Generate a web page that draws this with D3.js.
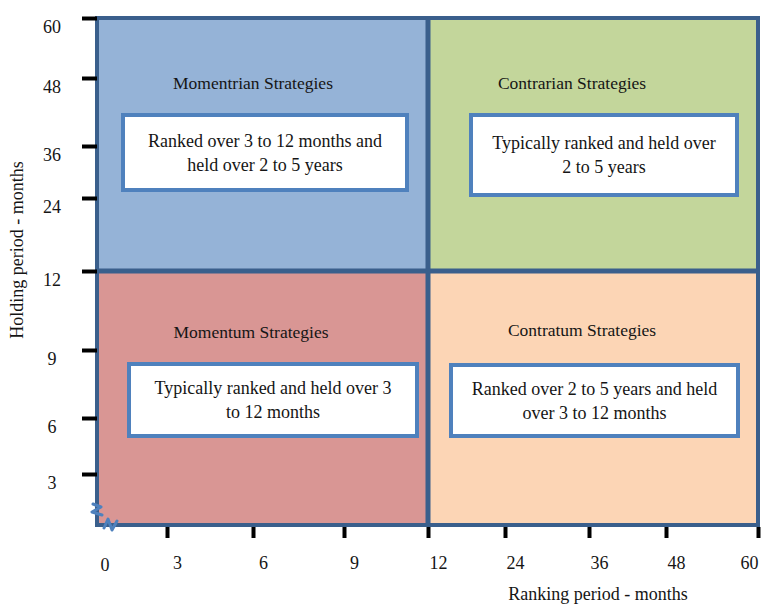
<!DOCTYPE html>
<html lang="en">
<head>
<meta charset="utf-8">
<title>Ranking vs holding period strategies</title>
<script src="https://d3js.org/d3.v7.min.js"></script>
<style>
body { margin: 0; background: #fff; }
svg text { font-family: "Liberation Serif", "DejaVu Serif", serif; fill: #151515; }
</style>
</head>
<body>
<div id="chart"></div>
<script>
// axis ticks (months)
var xTicks = [0, 3, 6, 9, 12, 24, 36, 48, 60];
var yTicks = [0, 3, 6, 9, 12, 24, 36, 48, 60];

// quadrants: ranking range, holding range
var quadX = [[0, 12], [12, 60], [0, 12], [12, 60]];
var quadY = [[12, 60], [12, 60], [0, 12], [0, 12]];
var quadTitles = ["Momentrian Strategies", "Contrarian Strategies", "Momentum Strategies", "Contratum Strategies"];
var quadTexts = [
  ["Ranked over 3 to 12 months and", "held over 2 to 5 years"],
  ["Typically ranked and held over", "2 to 5 years"],
  ["Typically ranked and held over 3", "to 12 months"],
  ["Ranked over 2 to 5 years and held", "over 3 to 12 months"]
];

// styles / layout
var quadFill = ["#95b3d7", "#c3d69b", "#d99694", "#fcd5b5"];
var frameColor = "#3a5f8c";
var boxColor = "#4f81bd";
var serif = "'Liberation Serif', 'DejaVu Serif', serif";
// hand placed tick positions of the original (pixels)
var xPos = [97, 167, 253, 344, 428, 505, 589, 666, 758];
var yPos = [525, 474, 418, 350, 271, 198, 146, 78, 18];
// note box insets inside each quadrant: left, right, top, bottom, title x offset, title y
var boxLayout = [
  {l: 26, r: 21, t: 115, b: 190, tx: 156, ty: 83},
  {l: 43, r: 21, t: 115, b: 195, tx: 144, ty: 83},
  {l: 32, r: 11, t: 364, b: 436, tx: 154, ty: 332},
  {l: 23, r: 20, t: 365, b: 436, tx: 154, ty: 330}
];

var W = 763, H = 606;
var svg = d3.select("#chart").append("svg")
  .attr("width", W)
  .attr("height", H)
  .style("font-family", serif);

var x = d3.scaleLinear().domain(xTicks).range(xPos);
var y = d3.scaleLinear().domain(yTicks).range(yPos);

// quadrant fills
var quads = svg.append("g").selectAll("g")
  .data(quadTitles)
  .enter().append("g");

quads.append("rect")
  .attr("x", function(d, i) { return x(quadX[i][0]); })
  .attr("y", function(d, i) { return y(quadY[i][1]); })
  .attr("width", function(d, i) { return x(quadX[i][1]) - x(quadX[i][0]); })
  .attr("height", function(d, i) { return y(quadY[i][0]) - y(quadY[i][1]); })
  .attr("fill", function(d, i) { return quadFill[i]; })
  .attr("stroke", frameColor)
  .attr("stroke-width", 4);

// middle dividers a bit heavier (two shape borders touching)
svg.append("line")
  .attr("x1", x(12)).attr("x2", x(12))
  .attr("y1", y(60)).attr("y2", y(0))
  .attr("stroke", frameColor).attr("stroke-width", 5);
svg.append("line")
  .attr("x1", x(0)).attr("x2", x(60))
  .attr("y1", y(12)).attr("y2", y(12))
  .attr("stroke", frameColor).attr("stroke-width", 5);

// titles
quads.append("text")
  .attr("x", function(d, i) { return x(quadX[i][0]) + boxLayout[i].tx; })
  .attr("y", function(d, i) { return boxLayout[i].ty; })
  .attr("dy", "0.35em")
  .attr("text-anchor", "middle")
  .style("font-size", "17.5px")
  .text(function(d) { return d; });

// note boxes
quads.append("rect")
  .attr("x", function(d, i) { return x(quadX[i][0]) + boxLayout[i].l; })
  .attr("y", function(d, i) { return boxLayout[i].t; })
  .attr("width", function(d, i) { return x(quadX[i][1]) - boxLayout[i].r - x(quadX[i][0]) - boxLayout[i].l; })
  .attr("height", function(d, i) { return boxLayout[i].b - boxLayout[i].t; })
  .attr("fill", "#fff")
  .attr("stroke", boxColor)
  .attr("stroke-width", 4);

quads.each(function(d, i) {
  var b = boxLayout[i];
  var cx = (x(quadX[i][0]) + b.l + x(quadX[i][1]) - b.r) / 2;
  var cy = (b.t + b.b) / 2;
  d3.select(this).append("text")
    .attr("text-anchor", "middle")
    .style("font-size", "18px")
    .selectAll("tspan")
    .data(quadTexts[i])
    .enter().append("tspan")
      .attr("x", cx)
      .attr("y", function(t, j) { return cy + (j - 0.5) * 24; })
      .attr("dy", "0.35em")
      .text(function(t) { return t; });
});

// axes (ticks only, black)
var yAxis = svg.append("g")
  .attr("transform", "translate(" + x(0) + ",0)")
  .call(d3.axisLeft(y).tickValues(yTicks.slice(1)).tickSizeInner(15).tickSizeOuter(0).tickFormat(d3.format("d")));
yAxis.attr("font-family", null).attr("font-size", null);
yAxis.select(".domain").remove();
yAxis.selectAll(".tick line").attr("stroke", "#000").attr("stroke-width", 4);
yAxis.selectAll(".tick text")
  .attr("x", -45)
  .attr("y", 9)
  .attr("text-anchor", "middle")
  .attr("fill", "#151515")
  .style("font-size", "18px");

var xAxis = svg.append("g")
  .attr("transform", "translate(0," + (y(0) + 2) + ")")
  .call(d3.axisBottom(x).tickValues(xTicks.slice(1)).tickSizeInner(11).tickSizeOuter(0).tickFormat(d3.format("d")));
xAxis.attr("font-family", null).attr("font-size", null);
xAxis.select(".domain").remove();
xAxis.selectAll(".tick line").attr("stroke", "#000").attr("stroke-width", 4);
xAxis.selectAll(".tick text")
  .attr("x", function(d) { return d === 60 ? 0 : 10; })
  .attr("y", 36)
  .attr("dy", "0.32em")
  .attr("text-anchor", function(d) { return d === 60 ? "end" : "middle"; })
  .attr("fill", "#151515")
  .style("font-size", "18px");

// the "0" at the origin has no tick mark
svg.append("text")
  .attr("x", x(0) + 8)
  .attr("y", y(0) + 40)
  .attr("dy", "0.32em")
  .attr("text-anchor", "middle")
  .style("font-size", "18px")
  .text("0");

// axis break marks at the origin
var brk = svg.append("g")
  .attr("transform", "translate(" + x(0) + "," + y(0) + ")")
  .attr("fill", "none")
  .attr("stroke", boxColor)
  .attr("stroke-width", 3)
  .attr("stroke-linejoin", "round")
  .attr("stroke-linecap", "round");
brk.append("path").attr("d", d3.line()([[-4, -21], [4, -18], [-5, -13], [5, -10]]));
brk.append("path").attr("d", d3.line()([[7, 3], [11, -6], [15, 5], [20, -4]]));

// axis titles
svg.append("text")
  .attr("x", 598)
  .attr("y", 594)
  .attr("dy", "0.35em")
  .attr("text-anchor", "middle")
  .style("font-size", "18px")
  .text("Ranking period - months");

svg.append("text")
  .attr("transform", "translate(17,250) rotate(-90)")
  .attr("dy", "0.35em")
  .attr("text-anchor", "middle")
  .style("font-size", "18px")
  .text("Holding period - months");
</script>
</body>
</html>
